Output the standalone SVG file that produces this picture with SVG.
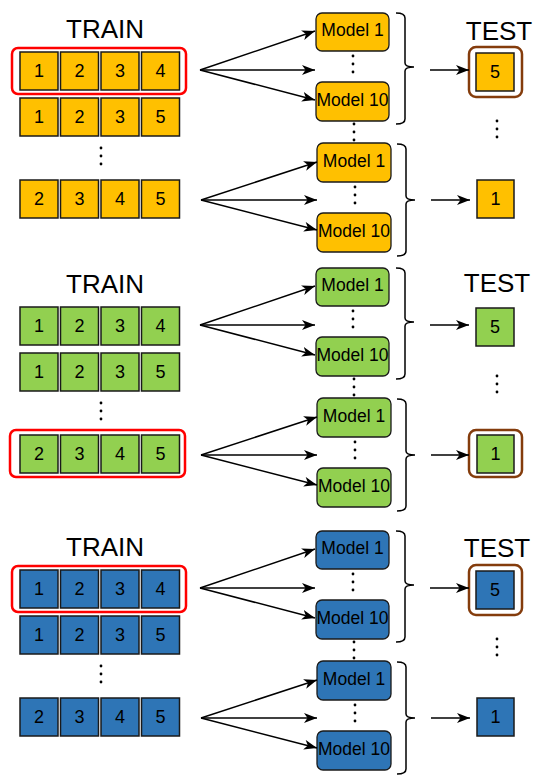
<svg xmlns="http://www.w3.org/2000/svg" width="536" height="775" viewBox="0 0 536 775">
<defs>
<marker id="ah" markerUnits="userSpaceOnUse" markerWidth="14" markerHeight="12" refX="13" refY="5" orient="auto">
<path d="M0,0 L13,5 L0,10 L3.5,5 z" fill="#000"/>
</marker>
<style>
.o{fill:#FFC000}.g{fill:#92D050}.b{fill:#2E75B6}
.cell{stroke:#1a1a1a;stroke-width:1.5}
.mdl{stroke:#1a1a1a;stroke-width:1.3}
.n{font-family:"Liberation Sans",Arial,sans-serif;font-size:18px;text-anchor:middle;fill:#000}
.m{font-family:"Liberation Sans",Arial,sans-serif;font-size:17.5px;text-anchor:middle;fill:#000}
.h{font-family:"Liberation Sans",Arial,sans-serif;font-size:26px;text-anchor:middle;fill:#000}
.ar{stroke:#000;stroke-width:1.5;fill:none;marker-end:url(#ah)}
.br{stroke:#000;stroke-width:1.5;fill:none}
.red{fill:none;stroke:#FF0000;stroke-width:2.5}
.brn{fill:none;stroke:#843C0C;stroke-width:2.5}
.dot{fill:#000}
</style>
</defs>

<!-- ===== Panel 1 (orange) ===== -->
<g id="panel1">
<text class="h" x="105" y="38">TRAIN</text>
<text class="h" x="499" y="40">TEST</text>
<g id="p1r1">
<rect class="o cell" x="20" y="52" width="38" height="38"/><text class="n" x="39" y="77">1</text>
<rect class="o cell" x="60.5" y="52" width="38" height="38"/><text class="n" x="79.5" y="77">2</text>
<rect class="o cell" x="101" y="52" width="38" height="38"/><text class="n" x="120" y="77">3</text>
<rect class="o cell" x="141.5" y="52" width="38" height="38"/><text class="n" x="160.5" y="77">4</text>
</g>
<g id="p1r2">
<rect class="o cell" x="20" y="98" width="38" height="38"/><text class="n" x="39" y="123">1</text>
<rect class="o cell" x="60.5" y="98" width="38" height="38"/><text class="n" x="79.5" y="123">2</text>
<rect class="o cell" x="101" y="98" width="38" height="38"/><text class="n" x="120" y="123">3</text>
<rect class="o cell" x="141.5" y="98" width="38" height="38"/><text class="n" x="160.5" y="123">5</text>
</g>
<g id="p1dots"><circle class="dot" cx="101" cy="148" r="1.4"/><circle class="dot" cx="101" cy="156" r="1.4"/><circle class="dot" cx="101" cy="164" r="1.4"/></g>
<g id="p1r3">
<rect class="o cell" x="20" y="180" width="38" height="38"/><text class="n" x="39" y="205">2</text>
<rect class="o cell" x="60.5" y="180" width="38" height="38"/><text class="n" x="79.5" y="205">3</text>
<rect class="o cell" x="101" y="180" width="38" height="38"/><text class="n" x="120" y="205">4</text>
<rect class="o cell" x="141.5" y="180" width="38" height="38"/><text class="n" x="160.5" y="205">5</text>
</g>
<rect id="p1sel" class="red" x="12" y="48" width="174" height="46" rx="6"/>
<g id="p1m1a"><rect class="o mdl" x="316" y="13" width="73" height="38" rx="6"/><text class="m" x="352.5" y="36">Model 1</text></g>
<g id="p1m10a"><rect class="o mdl" x="316" y="82" width="73" height="39" rx="6"/><text class="m" x="352.5" y="106">Model 10</text></g>
<g id="p1m1b"><rect class="o mdl" x="317" y="143" width="74" height="39" rx="6"/><text class="m" x="354" y="167">Model 1</text></g>
<g id="p1m10b"><rect class="o mdl" x="317" y="213" width="74" height="39" rx="6"/><text class="m" x="354" y="237">Model 10</text></g>
<g id="p1mdots">
<circle class="dot" cx="353" cy="56" r="1.4"/><circle class="dot" cx="353" cy="64" r="1.4"/><circle class="dot" cx="353" cy="72" r="1.4"/>
<circle class="dot" cx="354" cy="124" r="1.4"/><circle class="dot" cx="354" cy="132" r="1.4"/><circle class="dot" cx="354" cy="140" r="1.4"/>
<circle class="dot" cx="355" cy="187" r="1.4"/><circle class="dot" cx="355" cy="195" r="1.4"/><circle class="dot" cx="355" cy="203" r="1.4"/>
</g>
<g id="p1t5"><rect class="o cell" x="476" y="53" width="38" height="38"/><text class="n" x="495" y="78">5</text></g>
<rect id="p1tsel" class="brn" x="469" y="47" width="53" height="50" rx="7"/>
<g id="p1tdots"><circle class="dot" cx="497" cy="121" r="1.4"/><circle class="dot" cx="497" cy="129" r="1.4"/><circle class="dot" cx="497" cy="137" r="1.4"/></g>
<g id="p1t1"><rect class="o cell" x="477" y="180" width="37" height="38"/><text class="n" x="495.5" y="205">1</text></g>
</g>

<!-- ===== Panel 2 (green) ===== -->
<g id="panel2" transform="translate(0,255)">
<text class="h" x="105" y="38">TRAIN</text>
<text class="h" x="497" y="37">TEST</text>
<g id="p2r1">
<rect class="g cell" x="20" y="52" width="38" height="38"/><text class="n" x="39" y="77">1</text>
<rect class="g cell" x="60.5" y="52" width="38" height="38"/><text class="n" x="79.5" y="77">2</text>
<rect class="g cell" x="101" y="52" width="38" height="38"/><text class="n" x="120" y="77">3</text>
<rect class="g cell" x="141.5" y="52" width="38" height="38"/><text class="n" x="160.5" y="77">4</text>
</g>
<g id="p2r2">
<rect class="g cell" x="20" y="98" width="38" height="38"/><text class="n" x="39" y="123">1</text>
<rect class="g cell" x="60.5" y="98" width="38" height="38"/><text class="n" x="79.5" y="123">2</text>
<rect class="g cell" x="101" y="98" width="38" height="38"/><text class="n" x="120" y="123">3</text>
<rect class="g cell" x="141.5" y="98" width="38" height="38"/><text class="n" x="160.5" y="123">5</text>
</g>
<g id="p2dots"><circle class="dot" cx="101" cy="148" r="1.4"/><circle class="dot" cx="101" cy="156" r="1.4"/><circle class="dot" cx="101" cy="164" r="1.4"/></g>
<g id="p2r3">
<rect class="g cell" x="20" y="180" width="38" height="38"/><text class="n" x="39" y="205">2</text>
<rect class="g cell" x="60.5" y="180" width="38" height="38"/><text class="n" x="79.5" y="205">3</text>
<rect class="g cell" x="101" y="180" width="38" height="38"/><text class="n" x="120" y="205">4</text>
<rect class="g cell" x="141.5" y="180" width="38" height="38"/><text class="n" x="160.5" y="205">5</text>
</g>
<rect id="p2sel" class="red" x="10" y="175" width="175" height="47" rx="6"/>
<g id="p2m1a"><rect class="g mdl" x="316" y="13" width="73" height="38" rx="6"/><text class="m" x="352.5" y="36">Model 1</text></g>
<g id="p2m10a"><rect class="g mdl" x="316" y="82" width="73" height="39" rx="6"/><text class="m" x="352.5" y="106">Model 10</text></g>
<g id="p2m1b"><rect class="g mdl" x="317" y="143" width="74" height="39" rx="6"/><text class="m" x="354" y="167">Model 1</text></g>
<g id="p2m10b"><rect class="g mdl" x="317" y="213" width="74" height="39" rx="6"/><text class="m" x="354" y="237">Model 10</text></g>
<g id="p2mdots">
<circle class="dot" cx="353" cy="56" r="1.4"/><circle class="dot" cx="353" cy="64" r="1.4"/><circle class="dot" cx="353" cy="72" r="1.4"/>
<circle class="dot" cx="354" cy="124" r="1.4"/><circle class="dot" cx="354" cy="132" r="1.4"/><circle class="dot" cx="354" cy="140" r="1.4"/>
<circle class="dot" cx="355" cy="187" r="1.4"/><circle class="dot" cx="355" cy="195" r="1.4"/><circle class="dot" cx="355" cy="203" r="1.4"/>
</g>
<g id="p2t5"><rect class="g cell" x="476" y="53" width="38" height="38"/><text class="n" x="495" y="78">5</text></g>
<g id="p2tdots"><circle class="dot" cx="497" cy="121" r="1.4"/><circle class="dot" cx="497" cy="129" r="1.4"/><circle class="dot" cx="497" cy="137" r="1.4"/></g>
<g id="p2t1"><rect class="g cell" x="477" y="180" width="37" height="38"/><text class="n" x="495.5" y="205">1</text></g>
<rect id="p2tsel" class="brn" x="469" y="175" width="53" height="47" rx="7"/>
</g>

<!-- ===== Panel 3 (blue) ===== -->
<g id="panel3" transform="translate(0,518)">
<text class="h" x="105" y="38">TRAIN</text>
<text class="h" x="497" y="39">TEST</text>
<g id="p3r1">
<rect class="b cell" x="20" y="52" width="38" height="38"/><text class="n" x="39" y="77">1</text>
<rect class="b cell" x="60.5" y="52" width="38" height="38"/><text class="n" x="79.5" y="77">2</text>
<rect class="b cell" x="101" y="52" width="38" height="38"/><text class="n" x="120" y="77">3</text>
<rect class="b cell" x="141.5" y="52" width="38" height="38"/><text class="n" x="160.5" y="77">4</text>
</g>
<g id="p3r2">
<rect class="b cell" x="20" y="98" width="38" height="38"/><text class="n" x="39" y="123">1</text>
<rect class="b cell" x="60.5" y="98" width="38" height="38"/><text class="n" x="79.5" y="123">2</text>
<rect class="b cell" x="101" y="98" width="38" height="38"/><text class="n" x="120" y="123">3</text>
<rect class="b cell" x="141.5" y="98" width="38" height="38"/><text class="n" x="160.5" y="123">5</text>
</g>
<g id="p3dots"><circle class="dot" cx="101" cy="148" r="1.4"/><circle class="dot" cx="101" cy="156" r="1.4"/><circle class="dot" cx="101" cy="164" r="1.4"/></g>
<g id="p3r3">
<rect class="b cell" x="20" y="180" width="38" height="38"/><text class="n" x="39" y="205">2</text>
<rect class="b cell" x="60.5" y="180" width="38" height="38"/><text class="n" x="79.5" y="205">3</text>
<rect class="b cell" x="101" y="180" width="38" height="38"/><text class="n" x="120" y="205">4</text>
<rect class="b cell" x="141.5" y="180" width="38" height="38"/><text class="n" x="160.5" y="205">5</text>
</g>
<rect id="p3sel" class="red" x="12" y="48" width="174" height="46" rx="6"/>
<g id="p3m1a"><rect class="b mdl" x="316" y="13" width="73" height="38" rx="6"/><text class="m" x="352.5" y="36">Model 1</text></g>
<g id="p3m10a"><rect class="b mdl" x="316" y="82" width="73" height="39" rx="6"/><text class="m" x="352.5" y="106">Model 10</text></g>
<g id="p3m1b"><rect class="b mdl" x="317" y="143" width="74" height="39" rx="6"/><text class="m" x="354" y="167">Model 1</text></g>
<g id="p3m10b"><rect class="b mdl" x="317" y="213" width="74" height="39" rx="6"/><text class="m" x="354" y="237">Model 10</text></g>
<g id="p3mdots">
<circle class="dot" cx="353" cy="56" r="1.4"/><circle class="dot" cx="353" cy="64" r="1.4"/><circle class="dot" cx="353" cy="72" r="1.4"/>
<circle class="dot" cx="354" cy="124" r="1.4"/><circle class="dot" cx="354" cy="132" r="1.4"/><circle class="dot" cx="354" cy="140" r="1.4"/>
<circle class="dot" cx="355" cy="187" r="1.4"/><circle class="dot" cx="355" cy="195" r="1.4"/><circle class="dot" cx="355" cy="203" r="1.4"/>
</g>
<g id="p3t5"><rect class="b cell" x="476" y="53" width="38" height="38"/><text class="n" x="495" y="78">5</text></g>
<rect id="p3tsel" class="brn" x="469" y="47" width="53" height="50" rx="7"/>
<g id="p3tdots"><circle class="dot" cx="497" cy="121" r="1.4"/><circle class="dot" cx="497" cy="129" r="1.4"/><circle class="dot" cx="497" cy="137" r="1.4"/></g>
<g id="p3t1"><rect class="b cell" x="477" y="180" width="37" height="38"/><text class="n" x="495.5" y="205">1</text></g>
</g>

<!-- ===== Connectors ===== -->
<g id="connectors">
<g id="c1">
<path class="ar" d="M200,70 L315,31"/><path class="ar" d="M200,70 L315,70"/><path class="ar" d="M200,70 L315,100"/>
<path class="ar" d="M201,200 L317,162"/><path class="ar" d="M201,200 L317,200"/><path class="ar" d="M201,200 L317,230"/>
<path class="br" d="M396,13 Q405,13 405,18 L405,63 Q405,67 414,67 Q405,67 405,71 L405,119 Q405,124 396,124"/>
<path class="br" d="M397,144 Q406,144 406,149 L406,196 Q406,200 415,200 Q406,200 406,204 L406,251 Q406,256 397,256"/>
<path class="ar" d="M430,70 L469,70"/><path class="ar" d="M431,200 L470,200"/>
</g>
<g id="c2" transform="translate(0,255)">
<path class="ar" d="M200,70 L315,31"/><path class="ar" d="M200,70 L315,70"/><path class="ar" d="M200,70 L315,100"/>
<path class="ar" d="M201,200 L317,162"/><path class="ar" d="M201,200 L317,200"/><path class="ar" d="M201,200 L317,230"/>
<path class="br" d="M396,13 Q405,13 405,18 L405,63 Q405,67 414,67 Q405,67 405,71 L405,119 Q405,124 396,124"/>
<path class="br" d="M397,144 Q406,144 406,149 L406,196 Q406,200 415,200 Q406,200 406,204 L406,251 Q406,256 397,256"/>
<path class="ar" d="M430,70 L469,70"/><path class="ar" d="M431,200 L469,200"/>
</g>
<g id="c3" transform="translate(0,518)">
<path class="ar" d="M200,70 L315,31"/><path class="ar" d="M200,70 L315,70"/><path class="ar" d="M200,70 L315,100"/>
<path class="ar" d="M201,200 L317,162"/><path class="ar" d="M201,200 L317,200"/><path class="ar" d="M201,200 L317,230"/>
<path class="br" d="M396,13 Q405,13 405,18 L405,63 Q405,67 414,67 Q405,67 405,71 L405,119 Q405,124 396,124"/>
<path class="br" d="M397,144 Q406,144 406,149 L406,196 Q406,200 415,200 Q406,200 406,204 L406,251 Q406,256 397,256"/>
<path class="ar" d="M430,70 L469,70"/><path class="ar" d="M431,200 L470,200"/>
</g>
</g>
</svg>
